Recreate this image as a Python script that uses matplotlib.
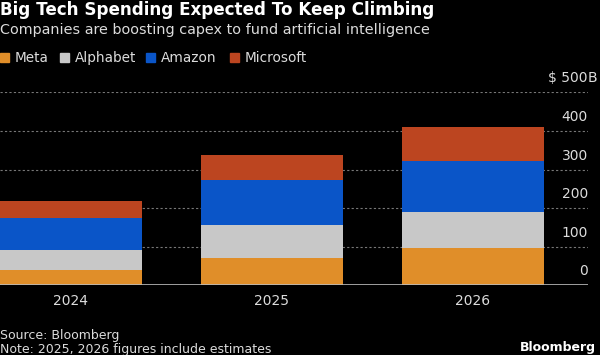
import numpy as np
import matplotlib
matplotlib.use("Agg")
import matplotlib.pyplot as plt
from matplotlib.patches import Rectangle

#   Data (billions of dollars)
years = ["2024", "2025", "2026"]
companies = ["Meta", "Alphabet", "Amazon", "Microsoft"]
meta = [39, 70, 97]
alphabet = [52, 85, 92]
amazon = [83, 119, 133]
microsoft = [45, 64, 89]
yticks = [0, 100, 200, 300, 400, 500]

colors = ["#E08E29", "#C8C8C8", "#0A55C8", "#BC4520"]
bg = "black"
txt = "#DCDCDC"

fig = plt.figure(figsize=(6, 3.55), dpi=100, facecolor=bg)
ax = fig.add_axes([0, 0.1963, 0.98, 0.5437], facecolor=bg)

x = np.arange(len(years))
bottom = np.zeros(len(years))
for name, vals, c in zip(companies, [meta, alphabet, amazon, microsoft], colors):
    ax.bar(x, vals, width=0.706, bottom=bottom, color=c, zorder=3, linewidth=0)
    bottom += np.array(vals)

ax.set_xlim(-0.353, -0.353 + 588 / 201)
ax.set_ylim(0, 500)

#   gridlines + labels above them
for t in yticks:
    if t == 0:
        ax.axhline(0, color="#BBBBBB", lw=1.2, zorder=4)
    else:
        ax.axhline(t, color="#777777", lw=0.8, ls=(0, (2, 2)), zorder=1)
    lab = str(t) if t != 500 else "$ 500"
    ax.annotate(lab, xy=(1.0, t), xycoords=("axes fraction", "data"),
                xytext=(0, 10), textcoords="offset points",
                ha="right", va="center", color=txt, fontsize=10)
ax.annotate("B", xy=(1.0, 500), xycoords=("axes fraction", "data"),
            xytext=(0, 10), textcoords="offset points",
            ha="left", va="center", color=txt, fontsize=10, annotation_clip=False)

ax.set_yticks([])
ax.set_xticks(x)
ax.set_xticklabels(years, color=txt, fontsize=10)
ax.tick_params(axis="x", length=0, pad=6)
for s in ax.spines.values():
    s.set_visible(False)

#   Titles
fig.text(0.0, 0.972, "Big Tech Spending Expected To Keep Climbing", color="white",
         fontsize=12.1, fontweight="bold", ha="left", va="center")
fig.text(0.0, 0.915, "Companies are boosting capex to fund artificial intelligence",
         color=txt, fontsize=10.4, ha="left", va="center")

#   Legend
lx = [0, 60, 146, 230]
for px, name, c in zip(lx, companies, colors):
    fig.patches.append(Rectangle((px / 600, 1 - 62 / 355), 9 / 600, 9 / 355,
                                 transform=fig.transFigure, color=c))
    fig.text((px + 15) / 600, 1 - 58 / 355, name, color=txt, fontsize=9.8,
             ha="left", va="center")

#   Footer
fig.text(0.0, 1 - 335 / 355, "Source: Bloomberg", color=txt, fontsize=9, ha="left", va="center")
fig.text(0.0, 1 - 350 / 355, "Note: 2025, 2026 figures include estimates", color=txt,
         fontsize=9, ha="left", va="center")
fig.text(596 / 600, 1 - 347 / 355, "Bloomberg", color="white", fontsize=9,
         fontweight="bold", ha="right", va="center")

fig.savefig("out.png", dpi=100, facecolor=bg)
